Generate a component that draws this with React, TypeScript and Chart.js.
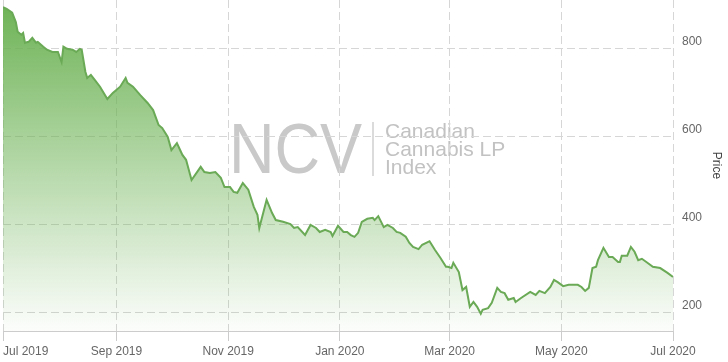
import React, { useEffect, useRef } from "react";
import { Chart, registerables } from "chart.js";

Chart.register(...registerables);

const dates: string[] = [
  "2019-07-01","2019-07-03","2019-07-06","2019-07-08","2019-07-09","2019-07-11","2019-07-12","2019-07-13",
  "2019-07-15","2019-07-17","2019-07-19","2019-07-20","2019-07-23","2019-07-25","2019-07-28","2019-07-31",
  "2019-08-02","2019-08-03","2019-08-05","2019-08-08","2019-08-10","2019-08-12","2019-08-13","2019-08-15",
  "2019-08-16","2019-08-18","2019-08-20","2019-08-23","2019-08-27","2019-08-30","2019-09-03","2019-09-06",
  "2019-09-07","2019-09-10","2019-09-14","2019-09-18","2019-09-21","2019-09-24","2019-09-26","2019-09-29",
  "2019-10-01","2019-10-04","2019-10-06","2019-10-07","2019-10-09","2019-10-12","2019-10-17","2019-10-19",
  "2019-10-22","2019-10-25","2019-10-28","2019-10-30","2019-11-02","2019-11-04","2019-11-06","2019-11-09",
  "2019-11-12","2019-11-15","2019-11-17","2019-11-18","2019-11-22","2019-11-25","2019-11-27","2019-12-01",
  "2019-12-05","2019-12-07","2019-12-09","2019-12-13","2019-12-16","2019-12-19","2019-12-21","2019-12-24",
  "2019-12-27","2019-12-28","2019-12-31","2020-01-03","2020-01-05","2020-01-07","2020-01-09","2020-01-11",
  "2020-01-13","2020-01-16","2020-01-19","2020-01-20","2020-01-22","2020-01-25","2020-01-27","2020-01-30",
  "2020-02-01","2020-02-03","2020-02-06","2020-02-08","2020-02-10","2020-02-13","2020-02-15","2020-02-18",
  "2020-02-19","2020-02-22","2020-02-25","2020-02-28","2020-02-29","2020-03-02","2020-03-03","2020-03-06",
  "2020-03-08","2020-03-10","2020-03-12","2020-03-14","2020-03-16","2020-03-18","2020-03-19","2020-03-22",
  "2020-03-24","2020-03-27","2020-03-29","2020-03-31","2020-04-02","2020-04-05","2020-04-06","2020-04-09",
  "2020-04-14","2020-04-17","2020-04-19","2020-04-22","2020-04-25","2020-04-27","2020-04-29","2020-05-02",
  "2020-05-05","2020-05-10","2020-05-12","2020-05-14","2020-05-16","2020-05-18","2020-05-20","2020-05-21",
  "2020-05-24","2020-05-27","2020-05-29","2020-06-01","2020-06-02","2020-06-03","2020-06-06","2020-06-08",
  "2020-06-10","2020-06-12","2020-06-14","2020-06-17","2020-06-20","2020-06-24","2020-06-28","2020-07-01",
];

const prices: number[] = [
  895, 891, 882, 861, 839, 832, 836, 814,
  816, 825, 814, 816, 805, 798, 793, 793,
  770, 805, 800, 798, 793, 800, 798, 748,
  734, 741, 730, 714, 686, 700, 714, 734,
  723, 714, 695, 677, 661, 627, 620, 600,
  570, 586, 568, 559, 548, 502, 532, 520,
  518, 520, 507, 486, 486, 475, 473, 495,
  480, 441, 423, 393, 457, 427, 411, 407,
  402, 393, 395, 377, 400, 393, 384, 389,
  384, 375, 398, 384, 384, 377, 373, 382,
  407, 414, 416, 411, 420, 395, 400, 393,
  384, 382, 373, 359, 350, 345, 355, 361,
  363, 343, 325, 305, 305, 302, 314, 293,
  252, 259, 214, 225, 214, 198, 207, 211,
  223, 257, 248, 245, 230, 234, 225, 234,
  248, 241, 250, 245, 259, 275, 270, 261,
  264, 264, 259, 250, 257, 302, 305, 320,
  348, 327, 327, 316, 316, 330, 330, 350,
  339, 320, 323, 314, 305, 302, 291, 282,
];

const tickDates: string[] = ["2019-07-01", "2019-09-01", "2019-11-01", "2020-01-01", "2020-03-01", "2020-05-01", "2020-07-01"];
const tickLabels: string[] = ["Jul 2019", "Sep 2019", "Nov 2019", "Jan 2020", "Mar 2020", "May 2020", "Jul 2020"];
const yTicks: number[] = [200, 400, 600, 800];
const yMin = 159;
const yMax = 911;

const FONT = '"Liberation Sans", Arial, sans-serif';

const watermark = {
  id: "watermark",
  beforeDraw(chart: any) {
    const ctx = chart.ctx;
    ctx.save();
    ctx.fillStyle = "#c9c9c9";
    ctx.textBaseline = "alphabetic";
    ctx.textAlign = "left";
    ctx.font = `70px ${FONT}`;
    ctx.translate(229, 173);
    ctx.scale(0.9, 1);
    ctx.fillText("NCV", 0, 0);
    ctx.restore();
    ctx.save();
    ctx.strokeStyle = "#cfcfcf";
    ctx.lineWidth = 1.5;
    ctx.beginPath();
    ctx.moveTo(373, 122);
    ctx.lineTo(373, 176);
    ctx.stroke();
    ctx.fillStyle = "#c2c2c2";
    ctx.font = `21px ${FONT}`;
    ctx.textAlign = "left";
    ctx.textBaseline = "alphabetic";
    ctx.fillText("Canadian", 385, 138);
    ctx.fillText("Cannabis LP", 385, 156);
    ctx.fillText("Index", 385, 174);
    ctx.restore();
  },
};

const firstLabelLeft = {
  id: "firstLabelLeft",
  beforeDraw(chart: any) {
    const sc = chart.scales.x;
    if (!sc) return;
    const items = sc.getLabelItems(chart.chartArea);
    if (items && items.length) items[0].options.textAlign = "left";
  },
};

export default function App() {
  const ref = useRef<HTMLCanvasElement | null>(null);
  useEffect(() => {
    if (!ref.current) return;
    Chart.defaults.font.family = FONT;
    const points = dates.map((d, i) => ({ x: Date.parse(d), y: prices[i] }));
    const tickVals = tickDates.map((d) => Date.parse(d));
    const chart = new Chart(ref.current, {
      type: "line",
      data: {
        datasets: [
          {
            data: points,
            borderColor: "#6aa955",
            borderWidth: 2,
            pointRadius: 0,
            tension: 0,
            fill: "start",
            backgroundColor: (c: any) => {
              const area = c.chart.chartArea;
              if (!area) return "rgba(108,178,84,0.5)";
              const g = c.chart.ctx.createLinearGradient(0, area.top, 0, area.bottom);
              g.addColorStop(0, "rgba(108,178,84,1)");
              g.addColorStop(1, "rgba(108,178,84,0.02)");
              return g;
            },
          },
        ],
      },
      options: {
        animation: false,
        responsive: false,
        devicePixelRatio: 1,
        layout: { padding: { left: 3, top: 0, right: 0, bottom: 0 } },
        plugins: { legend: { display: false }, tooltip: { enabled: false } },
        scales: {
          x: {
            type: "linear",
            position: "bottom",
            min: tickVals[0],
            max: tickVals[tickVals.length - 1],
            afterBuildTicks: (s: any) => {
              s.ticks = tickVals.map((v) => ({ value: v }));
            },
            afterFit: (s: any) => {
              s.height = 31;
              s.paddingLeft = 0;
              s.paddingRight = 0;
            },
            ticks: {
              autoSkip: false,
              maxRotation: 0,
              padding: 3,
              color: "#666666",
              font: { size: 12 },
              callback: (v: any) => {
                const i = tickVals.indexOf(Number(v));
                return i >= 0 ? tickLabels[i] : "";
              },
            },
            grid: {
              color: "#d6d6d6",
              lineWidth: 1,
              drawTicks: true,
              tickLength: 10,
              tickColor: "#cccccc",
              tickBorderDash: [],
            },
            border: { display: true, color: "#cccccc", width: 1, dash: [8, 4] },
          },
          y: {
            type: "linear",
            position: "right",
            min: yMin,
            max: yMax,
            afterBuildTicks: (s: any) => {
              s.ticks = yTicks.map((v) => ({ value: v }));
            },
            afterFit: (s: any) => {
              s.width = 55;
              s.paddingTop = 0;
              s.paddingBottom = 0;
            },
            ticks: {
              padding: 9,
              labelOffset: -7,
              color: "#666666",
              font: { size: 12 },
            },
            grid: { color: "#d6d6d6", lineWidth: 1, drawTicks: false },
            border: { display: false, dash: [8, 4] },
            title: {
              display: true,
              text: "Price",
              color: "#444444",
              font: { size: 12 },
              padding: { top: 4, bottom: 0 },
            },
          },
        },
      },
      plugins: [watermark, firstLabelLeft],
    });
    return () => chart.destroy();
  }, []);
  return (
    <div style={{ position: "fixed", left: 0, top: 0, width: 728, height: 362 }}>
      <canvas ref={ref} width={728} height={362} style={{ width: 728, height: 362 }} />
    </div>
  );
}
